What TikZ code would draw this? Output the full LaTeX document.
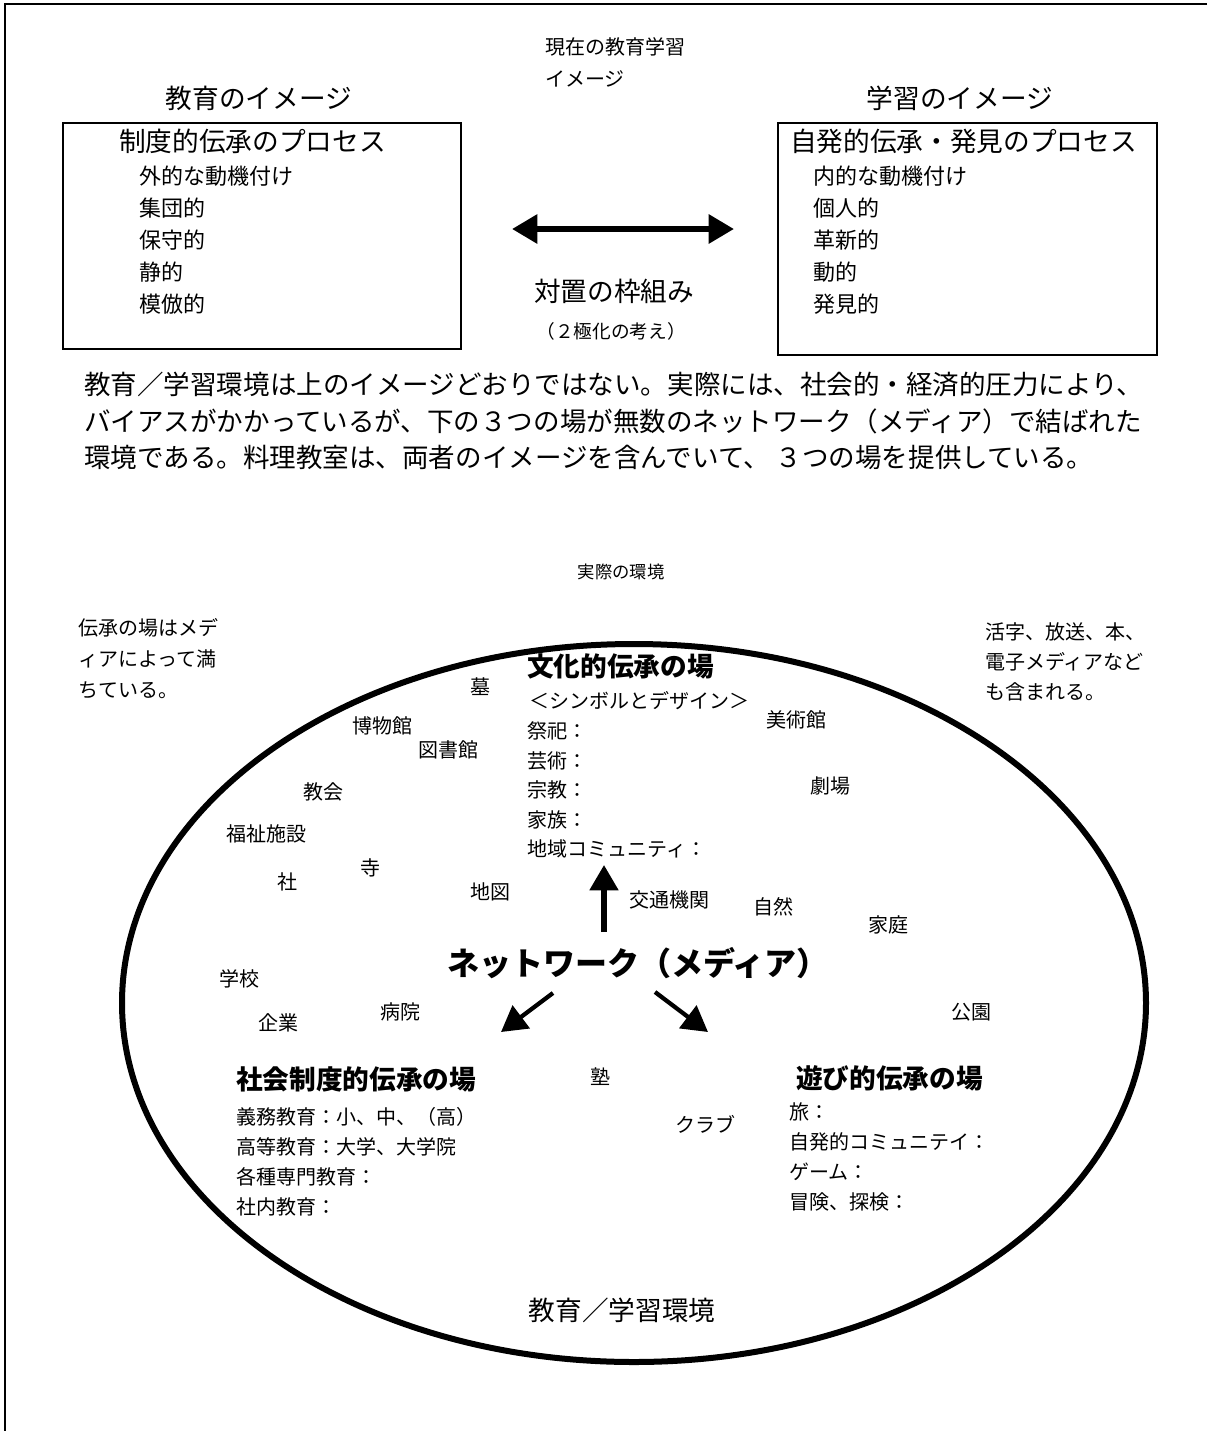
\documentclass[tikz,border=0pt]{standalone}
\usepackage{fontspec}
\setmainfont{Noto Sans CJK JP}
\usetikzlibrary{arrows.meta}

\begin{document}
\begin{tikzpicture}[x=0.75pt,y=0.75pt,yscale=-1,xscale=1,
  headline/.style={font=\fontsize{20}{24}\selectfont,inner sep=0pt},
  boxitem/.style={font=\fontsize{16.5}{24}\selectfont,inner sep=0pt,anchor=west,align=left},
  small/.style={font=\fontsize{15}{22.2}\selectfont,inner sep=0pt},
  fieldtitle/.style={font=\fontsize{20}{24}\selectfont\bfseries,inner sep=0pt,anchor=west},
  bigarrow/.style={line width=4pt,-{Triangle[length=19pt,width=21pt]}}]
\useasboundingbox (0,0) rectangle (1207,1431);

%Frame (only top and left edges are visible)
\draw [line width=2pt] (1207,4) -- (5,4) -- (5,1431) ;

% Text Node
\node [headline] (eduimg) at (259,98) {教育のイメージ};
% Text Node
\node [small,anchor=west,align=left,font=\fontsize{15}{24}\selectfont] (curimg) at (545,62) {現在の教育学習\\イメージ};
% Text Node
\node [headline] (lrnimg) at (960,98) {学習のイメージ};

%Shape: Rectangle
\draw [line width=1.5pt] (63,123) rectangle (461,349) ;
%Shape: Rectangle
\draw [line width=1.5pt] (778,123) rectangle (1157,355) ;

% Text Node
\node [headline,anchor=west] (instproc) at (119,141) {制度的伝承のプロセス};
\node [boxitem] (instlist) at (139,240) {外的な動機付け\\集団的\\保守的\\静的\\模倣的};
% Text Node
\node [headline,anchor=west] (spontproc) at (790,141) {自発的伝承・発見のプロセス};
\node [boxitem] (spontlist) at (813,240) {内的な動機付け\\個人的\\革新的\\動的\\発見的};

%Straight Lines (double arrow)
\coordinate (dblL) at (512,229);
\coordinate (dblR) at (734,229);
\draw [line width=4.5pt,{Triangle[length=19pt,width=21pt]}-{Triangle[length=19pt,width=21pt]}] (dblL) -- (dblR) ;

% Text Node
\node [headline] (frame) at (614,291) {対置の枠組み};
% Text Node
\node [font=\fontsize{14}{16}\selectfont,inner sep=0pt] (polar) at (611,331) {（２極化の考え）};

% Text Node
\node [font=\fontsize{19.9}{27.4}\selectfont,inner sep=0pt,anchor=west,align=left] (para) at (84,421) {教育／学習環境は上のイメージどおりではない。実際には、社会的・経済的圧力により、\\バイアスがかかっているが、下の３つの場が無数のネットワーク（メディア）で結ばれた\\環境である。料理教室は、両者のイメージを含んでいて、 ３つの場を提供している。};

% Text Node
\node [font=\fontsize{13}{16}\selectfont,inner sep=0pt] (realenv) at (621,572) {実際の環境};
% Text Node
\node [small,anchor=west,align=left,font=\fontsize{15}{23.3}\selectfont] (noteL) at (78,659) {伝承の場はメデ\\ィアによって満\\ちている。};
% Text Node
\node [small,anchor=west,align=left,font=\fontsize{15}{22.5}\selectfont] (noteR) at (985,662) {活字、放送、本、\\電子メディアなど\\も含まれる。};

%Shape: Ellipse
\draw [line width=4.5pt] (634,1003) ellipse [x radius=512, y radius=359] ;

% Text Node
\node [fieldtitle] (culture) at (527,666) {文化的伝承の場};
\node [small,anchor=west] (symbol) at (529,701) {＜シンボルとデザイン＞};
\node [small,anchor=west,align=left] (culturelist) at (527,790) {祭祀：\\芸術：\\宗教：\\家族：\\地域コミュニティ：};

% Text Node
\node [fieldtitle] (social) at (236,1079) {社会制度的伝承の場};
\node [small,anchor=west,align=left,font=\fontsize{15}{22.5}\selectfont] (sociallist) at (236,1162) {義務教育：小、中、（高）\\高等教育：大学、大学院\\各種専門教育：\\社内教育：};

% Text Node
\node [fieldtitle] (play) at (796,1078) {遊び的伝承の場};
\node [small,anchor=west,align=left,font=\fontsize{15}{22.5}\selectfont] (playlist) at (789,1157) {旅：\\自発的コミュニテイ：\\ゲーム：\\冒険、探検：};

% Text Node
\node [font=\fontsize{24}{28}\selectfont\bfseries,inner sep=0pt] (network) at (638,963) {ネットワーク（メディア）};

%Straight Lines (arrows from the network)
\coordinate (upS) at (604,932);
\coordinate (upE) at (604,865);
\coordinate (dlS) at (553,993);
\coordinate (dlE) at (501,1032);
\coordinate (drS) at (655,992);
\coordinate (drE) at (708,1032);
\draw [bigarrow,line width=3.8pt] (upS) -- (upE) ;
\draw [bigarrow,line width=3.2pt] (dlS) -- (dlE) ;
\draw [bigarrow,line width=3.2pt] (drS) -- (drE) ;

% Text Node (places)
\node [small] (grave) at (480,687) {墓};
\node [small] (museum) at (382,726) {博物館};
\node [small] (artmus) at (796,720) {美術館};
\node [small] (library) at (448,750) {図書館};
\node [small] (theater) at (830,786) {劇場};
\node [small] (church) at (323,792) {教会};
\node [small] (welfare) at (266,834) {福祉施設};
\node [small] (temple) at (370,868) {寺};
\node [small] (shrine) at (287,882) {社};
\node [small] (maps) at (490,892) {地図};
\node [small] (transit) at (669,900) {交通機関};
\node [small] (nature) at (773,907) {自然};
\node [small] (home) at (888,925) {家庭};
\node [small] (school) at (239,979) {学校};
\node [small] (company) at (278,1023) {企業};
\node [small] (hospital) at (400,1012) {病院};
\node [small] (park) at (971,1012) {公園};
\node [small] (cram) at (600,1077) {塾};
\node [small] (club) at (705,1124) {クラブ};

% Text Node
\node [headline] (envlabel) at (622,1310) {教育／学習環境};

\end{tikzpicture}
\end{document}
